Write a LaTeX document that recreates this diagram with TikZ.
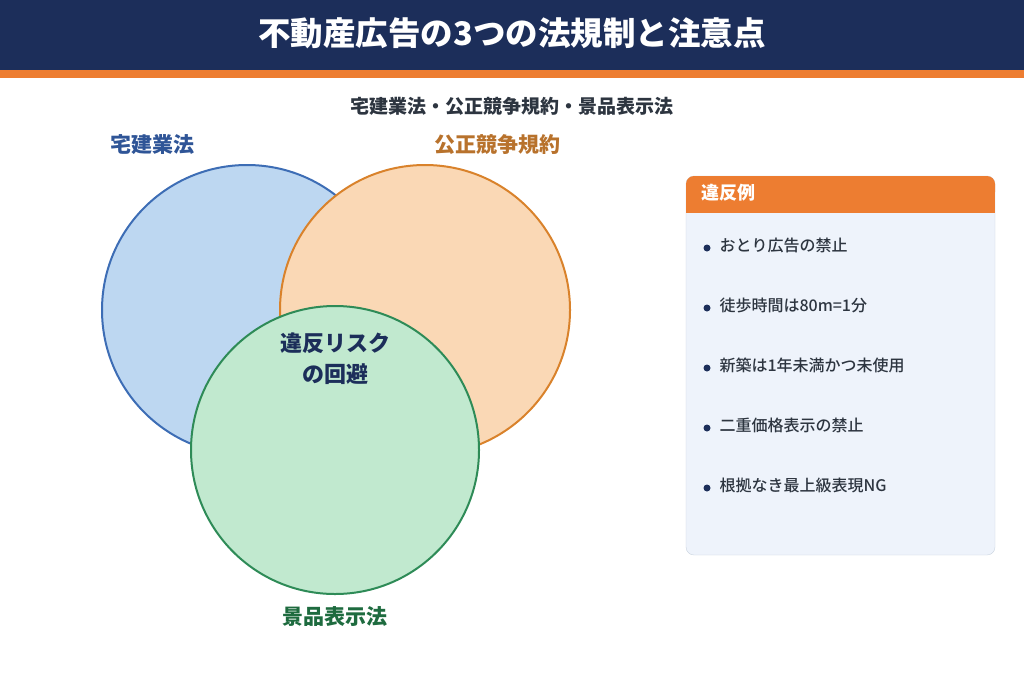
\documentclass[tikz,border=0pt]{standalone}
\usepackage{fontspec}
\setmainfont{Noto Sans CJK JP}
\newfontfamily\jpmedium{Noto Sans CJK JP Medium}
\definecolor{navy}{HTML}{1C2E5A}
\definecolor{accent}{HTML}{ED7D31}
\definecolor{bluefill}{HTML}{BDD7F1}
\definecolor{blueline}{HTML}{3D6DB5}
\definecolor{bluetext}{HTML}{2F5597}
\definecolor{orangefill}{HTML}{FAD8B5}
\definecolor{orangeline}{HTML}{D9822B}
\definecolor{orangetext}{HTML}{B8722C}
\definecolor{greenfill}{HTML}{C1E9CF}
\definecolor{greenline}{HTML}{2E8B57}
\definecolor{greentext}{HTML}{1E6B3F}
\definecolor{panelfill}{HTML}{EEF3FB}
\definecolor{panelline}{HTML}{C8D2DE}
\definecolor{itemtext}{HTML}{2D3540}
\tikzset{
  setcircle/.style={circle, line width=2pt, minimum size=#1, inner sep=0pt},
  setlabel/.style={font=\fontsize{21}{25}\selectfont\bfseries},
  item/.style={anchor=west, text=itemtext, font=\fontsize{16}{19}\selectfont\jpmedium},
  dot/.style={circle, fill=navy, minimum size=7pt, inner sep=0pt}
}
\begin{document}
\begin{tikzpicture}[x=1pt, y=-1pt]
  \useasboundingbox (0,0) rectangle (1024,683);
  % header
  \fill[navy] (0,0) rectangle (1024,70);
  \fill[accent] (0,70) rectangle (1024,78);
  \node[text=white, font=\fontsize{32.5}{38}\selectfont\bfseries] (title) at (512,33)
    {不動産広告の3つの法規制と注意点};
  \node[text=itemtext, font=\fontsize{19}{23}\selectfont\bfseries] (subtitle) at (512,106)
    {宅建業法・公正競争規約・景品表示法};

  % three circles
  \node[setcircle=290pt, draw=blueline, fill=bluefill] (takken) at (247,310) {};
  \node[setcircle=290pt, draw=orangeline, fill=orangefill] (kousei) at (425,310) {};
  \node[setcircle=288pt, draw=greenline, fill=greenfill] (keihin) at (335,450) {};
  \node[setlabel, text=bluetext] (takkenlabel) at (152,145) {宅建業法};
  \node[setlabel, text=orangetext] (kouseilabel) at (497,145) {公正競争規約};
  \node[setlabel, text=greentext] (keihinlabel) at (335,617) {景品表示法};
  \node[text=navy, align=center, font=\fontsize{22}{31}\selectfont\bfseries] (center) at (335,359)
    {違反リスク\\の回避};

  % panel
  \draw[panelline, fill=panelfill, rounded corners=8pt] (686,176) rectangle (995,555);
  \fill[accent, rounded corners=8pt] (686,176) rectangle (995,200);
  \fill[accent] (686,192) rectangle (995,213);
  \node[anchor=west, text=white, font=\fontsize{18}{22}\selectfont\bfseries] (panelhead) at (698,193) {違反例};
  \foreach \txt [count=\i] in {おとり広告の禁止, 徒歩時間は80m=1分, 新築は1年未満かつ未使用,
      二重価格表示の禁止, 根拠なき最上級表現NG} {
    \node[dot] (dot\i) at (707,188+60*\i) {};
    \node[item] (item\i) at (716,185+60*\i) {\txt};
  }
\end{tikzpicture}
\end{document}
